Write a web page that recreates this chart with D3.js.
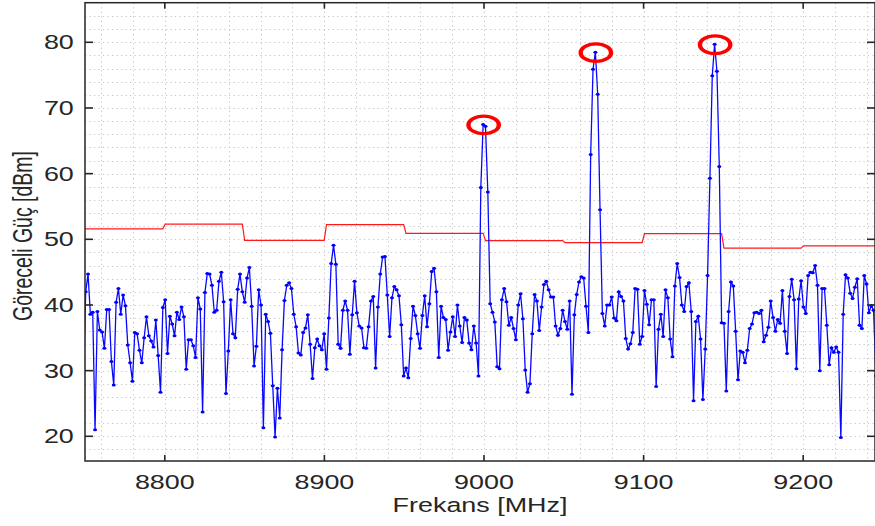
<!DOCTYPE html>
<html>
<head>
<meta charset="utf-8">
<script src="https://cdn.jsdelivr.net/npm/d3@7"></script>
<style>
  body { margin: 0; background: #fff; }
  text { font-family: "Liberation Sans", Arial, sans-serif; fill: #262626; }
</style>
</head>
<body>
<div id="chart"></div>
<script>
// frequency grid (MHz): first sample and spacing
var freqStart = 8748.975;
var freqStep = 1.4649;

// measured power (dBm), one value per sample
var powerDbm = [
  28.0,
  42.0, 44.7, 38.6, 38.9, 21.0, 39.0, 36.2, 35.9, 33.4, 39.3,
  39.3, 31.4, 27.8, 40.4, 42.5, 38.6, 41.5, 39.9, 33.9, 31.2,
  28.4, 35.8, 35.6, 33.1, 31.2, 35.0, 38.2, 35.3, 34.5, 33.6,
  37.7, 32.3, 26.7, 39.6, 40.8, 32.6, 38.3, 37.1, 35.3, 38.9,
  37.8, 39.7, 38.2, 30.2, 34.7, 34.7, 33.8, 32.0, 41.1, 39.4,
  23.7, 41.9, 44.8, 44.7, 43.0, 38.9, 39.2, 43.6, 45.0, 40.5,
  26.5, 33.0, 40.8, 35.6, 35.0, 42.4, 44.7, 42.0, 40.4, 44.1,
  45.7, 39.8, 30.7, 33.7, 42.3, 40.0, 21.3, 38.6, 37.5, 35.7,
  27.7, 19.9, 27.3, 22.8, 33.2, 40.7, 43.0, 43.4, 42.5, 38.6,
  36.7, 32.7, 32.4, 35.8, 36.5, 38.5, 34.0, 28.8, 33.5, 34.8,
  33.8, 33.2, 35.6, 30.2, 38.0, 46.3, 49.1, 46.2, 34.0, 33.4,
  39.2, 40.6, 39.2, 32.5, 38.5, 43.6, 38.8, 36.8, 36.5, 33.5,
  33.4, 36.7, 40.6, 41.3, 30.4, 39.7, 44.7, 47.3, 47.4, 41.5,
  35.2, 41.1, 42.8, 42.3, 41.4, 37.0, 29.2, 30.4, 28.9, 34.9,
  39.8, 38.4, 35.6, 33.4, 38.4, 41.4, 36.7, 40.2, 45.1, 45.6,
  42.0, 32.0, 39.8, 38.1, 37.8, 33.1, 35.9, 38.2, 35.2, 40.0,
  36.8, 34.3, 38.1, 37.7, 34.2, 33.2, 36.8, 34.2, 29.2, 57.9,
  67.5, 67.2, 57.2, 40.2, 38.9, 37.4, 30.6, 30.3, 40.8, 42.5,
  40.5, 36.9, 38.1, 36.4, 34.7, 40.0, 41.7, 37.9, 30.1, 26.7,
  28.0, 35.6, 41.6, 40.6, 36.1, 39.7, 43.1, 43.6, 42.3, 41.2,
  41.2, 36.8, 35.4, 36.4, 39.2, 37.5, 36.3, 40.6, 26.4, 38.5,
  41.6, 43.5, 44.3, 44.1, 39.8, 35.8, 62.9, 75.9, 78.5, 72.1,
  54.5, 38.7, 36.8, 40.0, 40.0, 41.2, 38.0, 37.6, 42.0, 41.3,
  40.6, 34.9, 33.3, 34.1, 35.8, 42.5, 42.4, 34.0, 35.2, 42.2,
  40.1, 37.0, 40.8, 40.8, 27.6, 36.3, 38.6, 35.2, 42.3, 41.1,
  34.8, 32.1, 42.9, 46.3, 44.2, 40.0, 39.0, 42.8, 43.4, 39.0,
  25.4, 37.5, 38.3, 34.8, 25.6, 33.3, 44.5, 59.3, 74.9, 79.7,
  75.6, 61.1, 37.3, 37.2, 26.9, 39.0, 43.5, 42.9, 36.0, 28.6,
  33.0, 32.8, 31.2, 33.1, 36.4, 37.1, 38.8, 38.9, 38.7, 39.2,
  34.4, 35.4, 36.6, 40.6, 38.1, 36.0, 37.8, 37.2, 42.2, 36.0,
  32.6, 41.3, 43.9, 40.8, 30.3, 40.9, 43.7, 39.7, 38.7, 44.5,
  45.0, 44.9, 46.0, 43.0, 30.0, 42.5, 42.5, 36.9, 30.9, 33.5,
  32.8, 33.6, 32.8, 19.8, 38.6, 44.6, 44.1, 41.8, 41.0, 42.7,
  44.0, 36.9, 36.4, 44.5, 43.2, 38.8, 39.9, 39.2, 29.2
];

// threshold (red) : one level per 50 MHz band
var bandEdges = [8750, 8800, 8850, 8900, 8950, 9000, 9050, 9100, 9150, 9200, 9250];
var bandLevels = [51.6, 52.3, 49.85, 52.25, 50.9, 49.8, 49.5, 50.85, 48.65, 49.0];

var xTicks = [8800, 8900, 9000, 9100, 9200];
var yTicks = [20, 30, 40, 50, 60, 70, 80];

function drawChart() {
    var width = 875, height = 526;
    var pL = 85, pR = 875, pT = 2.7, pB = 461;
    var sx = 1.38;   // the reference figure is stretched horizontally
    var fontSize = 19.5;

    var data = powerDbm.map(function(v, i) {
        var f = freqStart + i * freqStep;
        var b = d3.bisectRight(bandEdges, f) - 1;
        b = Math.max(0, Math.min(bandLevels.length - 1, b));
        return { f: f, p: v, thr: bandLevels[b] };
    });

    var svg = d3.select("#chart").append("svg")
        .attr("width", width)
        .attr("height", height)
        .style("display", "block");

    svg.append("rect").attr("width", width).attr("height", height).attr("fill", "#fff");

    var x = d3.scaleLinear().domain([8750, 9245]).range([pL, pR]);
    var y = d3.scaleLinear().domain([16.24, 86.03]).range([pB, pT]);

    // dotted grid (minor + major)
    var grid = svg.append("g").attr("stroke", "#c4c4c4").attr("stroke-width", 1)
        .attr("stroke-dasharray", "1.2,3.3");
    grid.selectAll("line.gx")
        .data(d3.range(8760, 9245, 20))
        .enter().append("line")
        .attr("x1", d => Math.round(x(d)) + 0.5).attr("x2", d => Math.round(x(d)) + 0.5)
        .attr("y1", pT).attr("y2", pB);
    grid.selectAll("line.gy")
        .data(d3.range(18, 86, 2))
        .enter().append("line")
        .attr("x1", pL).attr("x2", pR)
        .attr("y1", d => Math.round(y(d)) + 0.5).attr("y2", d => Math.round(y(d)) + 0.5);

    svg.append("clipPath").attr("id", "plotclip")
        .append("rect").attr("x", pL).attr("y", pT)
        .attr("width", pR - pL).attr("height", pB - pT);

    var plot = svg.append("g").attr("clip-path", "url(#plotclip)");

    // threshold line
    plot.append("path")
        .datum(data)
        .attr("fill", "none")
        .attr("stroke", "#ff1a1a")
        .attr("stroke-width", 1.2)
        .attr("d", d3.line().x(d => x(d.f)).y(d => y(d.thr)));

    // measured spectrum
    plot.append("path")
        .datum(data)
        .attr("fill", "none")
        .attr("stroke", "#0808ff")
        .attr("stroke-width", 1.3)
        .attr("d", d3.line().x(d => x(d.f)).y(d => y(d.p)));

    plot.append("g").selectAll("ellipse")
        .data(data)
        .enter().append("ellipse")
        .attr("cx", d => x(d.f))
        .attr("cy", d => y(d.p))
        .attr("rx", 2)
        .attr("ry", 1.5)
        .attr("fill", "#0000ff");

    // red rings around the peaks well above the threshold
    var peaks = data.filter(function(d, i) {
        return i > 0 && i < data.length - 1 && d.p > d.thr + 10 &&
            d.p >= data[i - 1].p && d.p >= data[i + 1].p;
    });
    svg.append("g").selectAll("ellipse")
        .data(peaks)
        .enter().append("ellipse")
        .attr("transform", d => "translate(" + (x(d.f) + 0.5) + "," + (y(d.p) + 0.5) + ") scale(" + sx + ",1)")
        .attr("rx", 11)
        .attr("ry", 8.8)
        .attr("fill", "none")
        .attr("stroke", "#f00")
        .attr("stroke-width", 3.2);

    // axes box
    var axisColor = "#262626";
    svg.append("rect")
        .attr("x", pL).attr("y", pT)
        .attr("width", pR - pL).attr("height", pB - pT)
        .attr("fill", "none").attr("stroke", axisColor).attr("stroke-width", 1.5);

    // inward ticks on all four sides
    var tk = svg.append("g").attr("stroke", axisColor).attr("stroke-width", 1.6);
    xTicks.forEach(function(t) {
        tk.append("line").attr("x1", x(t)).attr("x2", x(t)).attr("y1", pB).attr("y2", pB - 6);
        tk.append("line").attr("x1", x(t)).attr("x2", x(t)).attr("y1", pT).attr("y2", pT + 6);
    });
    yTicks.forEach(function(t) {
        tk.append("line").attr("x1", pL).attr("x2", pL + 8).attr("y1", y(t)).attr("y2", y(t));
        tk.append("line").attr("x1", pR).attr("x2", pR - 8).attr("y1", y(t)).attr("y2", y(t));
    });

    // tick labels
    svg.append("g").selectAll("text")
        .data(xTicks)
        .enter().append("text")
        .attr("transform", d => "translate(" + x(d) + "," + 488.7 + ") scale(" + sx + ",1)")
        .attr("text-anchor", "middle")
        .style("font-size", fontSize + "px")
        .text(d => d);

    svg.append("g").selectAll("text")
        .data(yTicks)
        .enter().append("text")
        .attr("transform", d => "translate(" + (pL - 11.2) + "," + y(d) + ") scale(" + sx + ",1)")
        .attr("text-anchor", "end")
        .attr("dy", "0.36em")
        .style("font-size", fontSize + "px")
        .text(d => d);

    // axis titles
    svg.append("text")
        .attr("transform", "translate(" + ((pL + pR) / 2) + ",512) scale(" + sx + ",1)")
        .attr("text-anchor", "middle")
        .style("font-size", fontSize + "px")
        .text("Frekans [MHz]");

    svg.append("text")
        .attr("transform", "translate(32,236) scale(" + sx + ",1) rotate(-90)")
        .attr("text-anchor", "middle")
        .style("font-size", fontSize + "px")
        .text("Göreceli Güç [dBm]");
}

drawChart();
</script>
</body>
</html>
